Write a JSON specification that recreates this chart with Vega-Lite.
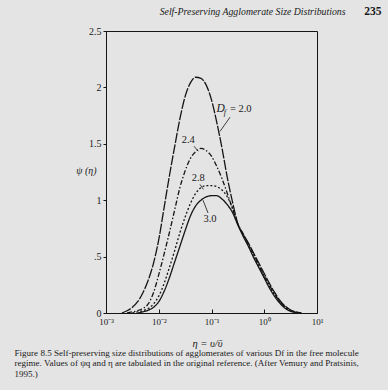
{
  "$schema": "https://vega.github.io/schema/vega-lite/v6.json",
  "autosize": {"type": "none"},
  "width": 211,
  "height": 282,
  "padding": {"left": 106, "top": 31, "right": 71, "bottom": 77},
  "background": "#e4e4e4",
  "datasets": {
    "curves": [
      {"Df": "2.0", "eta": 0.001995, "psi": 0},
      {"Df": "2.0", "eta": 0.002512, "psi": 0.02},
      {"Df": "2.0", "eta": 0.003162, "psi": 0.05},
      {"Df": "2.0", "eta": 0.003981, "psi": 0.10},
      {"Df": "2.0", "eta": 0.005012, "psi": 0.18},
      {"Df": "2.0", "eta": 0.00631, "psi": 0.29},
      {"Df": "2.0", "eta": 0.007943, "psi": 0.44},
      {"Df": "2.0", "eta": 0.01, "psi": 0.65},
      {"Df": "2.0", "eta": 0.01259, "psi": 0.93},
      {"Df": "2.0", "eta": 0.01585, "psi": 1.21},
      {"Df": "2.0", "eta": 0.01995, "psi": 1.47},
      {"Df": "2.0", "eta": 0.02512, "psi": 1.72},
      {"Df": "2.0", "eta": 0.03162, "psi": 1.92},
      {"Df": "2.0", "eta": 0.03981, "psi": 2.04},
      {"Df": "2.0", "eta": 0.05012, "psi": 2.09},
      {"Df": "2.0", "eta": 0.0631, "psi": 2.08},
      {"Df": "2.0", "eta": 0.07943, "psi": 2.02},
      {"Df": "2.0", "eta": 0.1, "psi": 1.89},
      {"Df": "2.0", "eta": 0.1259, "psi": 1.69},
      {"Df": "2.0", "eta": 0.1585, "psi": 1.46},
      {"Df": "2.0", "eta": 0.1995, "psi": 1.20},
      {"Df": "2.0", "eta": 0.2512, "psi": 0.98},
      {"Df": "2.0", "eta": 0.3162, "psi": 0.79},
      {"Df": "2.0", "eta": 0.3981, "psi": 0.70},
      {"Df": "2.0", "eta": 0.5012, "psi": 0.62},
      {"Df": "2.0", "eta": 0.631, "psi": 0.53},
      {"Df": "2.0", "eta": 0.7943, "psi": 0.44},
      {"Df": "2.0", "eta": 1, "psi": 0.35},
      {"Df": "2.0", "eta": 1.259, "psi": 0.26},
      {"Df": "2.0", "eta": 1.585, "psi": 0.18},
      {"Df": "2.0", "eta": 1.995, "psi": 0.11},
      {"Df": "2.0", "eta": 2.512, "psi": 0.06},
      {"Df": "2.0", "eta": 3.162, "psi": 0.027},
      {"Df": "2.0", "eta": 3.981, "psi": 0.009},
      {"Df": "2.0", "eta": 5.012, "psi": 0},
      {"Df": "2.4", "eta": 0.002512, "psi": 0},
      {"Df": "2.4", "eta": 0.003162, "psi": 0.01},
      {"Df": "2.4", "eta": 0.003981, "psi": 0.02},
      {"Df": "2.4", "eta": 0.005012, "psi": 0.04},
      {"Df": "2.4", "eta": 0.00631, "psi": 0.08},
      {"Df": "2.4", "eta": 0.007943, "psi": 0.18},
      {"Df": "2.4", "eta": 0.01, "psi": 0.34},
      {"Df": "2.4", "eta": 0.01259, "psi": 0.52},
      {"Df": "2.4", "eta": 0.01585, "psi": 0.71},
      {"Df": "2.4", "eta": 0.01995, "psi": 0.91},
      {"Df": "2.4", "eta": 0.02512, "psi": 1.11},
      {"Df": "2.4", "eta": 0.03162, "psi": 1.26},
      {"Df": "2.4", "eta": 0.03981, "psi": 1.37},
      {"Df": "2.4", "eta": 0.05012, "psi": 1.43},
      {"Df": "2.4", "eta": 0.0631, "psi": 1.46},
      {"Df": "2.4", "eta": 0.07943, "psi": 1.44},
      {"Df": "2.4", "eta": 0.1, "psi": 1.39},
      {"Df": "2.4", "eta": 0.1259, "psi": 1.30},
      {"Df": "2.4", "eta": 0.1585, "psi": 1.19},
      {"Df": "2.4", "eta": 0.1995, "psi": 1.06},
      {"Df": "2.4", "eta": 0.2512, "psi": 0.92},
      {"Df": "2.4", "eta": 0.3162, "psi": 0.79},
      {"Df": "2.4", "eta": 0.3981, "psi": 0.70},
      {"Df": "2.4", "eta": 0.5012, "psi": 0.61},
      {"Df": "2.4", "eta": 0.631, "psi": 0.52},
      {"Df": "2.4", "eta": 0.7943, "psi": 0.42},
      {"Df": "2.4", "eta": 1, "psi": 0.33},
      {"Df": "2.4", "eta": 1.259, "psi": 0.245},
      {"Df": "2.4", "eta": 1.585, "psi": 0.165},
      {"Df": "2.4", "eta": 1.995, "psi": 0.10},
      {"Df": "2.4", "eta": 2.512, "psi": 0.055},
      {"Df": "2.4", "eta": 3.162, "psi": 0.023},
      {"Df": "2.4", "eta": 3.981, "psi": 0.007},
      {"Df": "2.4", "eta": 5.012, "psi": 0},
      {"Df": "2.8", "eta": 0.003162, "psi": 0},
      {"Df": "2.8", "eta": 0.003981, "psi": 0.01},
      {"Df": "2.8", "eta": 0.005012, "psi": 0.02},
      {"Df": "2.8", "eta": 0.00631, "psi": 0.04},
      {"Df": "2.8", "eta": 0.007943, "psi": 0.08},
      {"Df": "2.8", "eta": 0.01, "psi": 0.15},
      {"Df": "2.8", "eta": 0.01259, "psi": 0.26},
      {"Df": "2.8", "eta": 0.01585, "psi": 0.40},
      {"Df": "2.8", "eta": 0.01995, "psi": 0.55},
      {"Df": "2.8", "eta": 0.02512, "psi": 0.71},
      {"Df": "2.8", "eta": 0.03162, "psi": 0.85},
      {"Df": "2.8", "eta": 0.03981, "psi": 0.97},
      {"Df": "2.8", "eta": 0.05012, "psi": 1.06},
      {"Df": "2.8", "eta": 0.0631, "psi": 1.11},
      {"Df": "2.8", "eta": 0.07943, "psi": 1.13},
      {"Df": "2.8", "eta": 0.1, "psi": 1.13},
      {"Df": "2.8", "eta": 0.1259, "psi": 1.12},
      {"Df": "2.8", "eta": 0.1585, "psi": 1.09},
      {"Df": "2.8", "eta": 0.1995, "psi": 1.03},
      {"Df": "2.8", "eta": 0.2512, "psi": 0.93},
      {"Df": "2.8", "eta": 0.3162, "psi": 0.79},
      {"Df": "2.8", "eta": 0.3981, "psi": 0.69},
      {"Df": "2.8", "eta": 0.5012, "psi": 0.60},
      {"Df": "2.8", "eta": 0.631, "psi": 0.51},
      {"Df": "2.8", "eta": 0.7943, "psi": 0.41},
      {"Df": "2.8", "eta": 1, "psi": 0.32},
      {"Df": "2.8", "eta": 1.259, "psi": 0.235},
      {"Df": "2.8", "eta": 1.585, "psi": 0.16},
      {"Df": "2.8", "eta": 1.995, "psi": 0.095},
      {"Df": "2.8", "eta": 2.512, "psi": 0.05},
      {"Df": "2.8", "eta": 3.162, "psi": 0.02},
      {"Df": "2.8", "eta": 3.981, "psi": 0.006},
      {"Df": "2.8", "eta": 5.012, "psi": 0},
      {"Df": "3.0", "eta": 0.003981, "psi": 0},
      {"Df": "3.0", "eta": 0.005012, "psi": 0.01},
      {"Df": "3.0", "eta": 0.00631, "psi": 0.025},
      {"Df": "3.0", "eta": 0.007943, "psi": 0.05},
      {"Df": "3.0", "eta": 0.01, "psi": 0.10},
      {"Df": "3.0", "eta": 0.01259, "psi": 0.19},
      {"Df": "3.0", "eta": 0.01585, "psi": 0.31},
      {"Df": "3.0", "eta": 0.01995, "psi": 0.45},
      {"Df": "3.0", "eta": 0.02512, "psi": 0.59},
      {"Df": "3.0", "eta": 0.03162, "psi": 0.73},
      {"Df": "3.0", "eta": 0.03981, "psi": 0.86},
      {"Df": "3.0", "eta": 0.05012, "psi": 0.95},
      {"Df": "3.0", "eta": 0.0631, "psi": 1.00},
      {"Df": "3.0", "eta": 0.07943, "psi": 1.03},
      {"Df": "3.0", "eta": 0.1, "psi": 1.04},
      {"Df": "3.0", "eta": 0.1259, "psi": 1.04},
      {"Df": "3.0", "eta": 0.1585, "psi": 1.01},
      {"Df": "3.0", "eta": 0.1995, "psi": 0.96},
      {"Df": "3.0", "eta": 0.2512, "psi": 0.89},
      {"Df": "3.0", "eta": 0.3162, "psi": 0.78},
      {"Df": "3.0", "eta": 0.3981, "psi": 0.68},
      {"Df": "3.0", "eta": 0.5012, "psi": 0.59},
      {"Df": "3.0", "eta": 0.631, "psi": 0.49},
      {"Df": "3.0", "eta": 0.7943, "psi": 0.40},
      {"Df": "3.0", "eta": 1, "psi": 0.31},
      {"Df": "3.0", "eta": 1.259, "psi": 0.22},
      {"Df": "3.0", "eta": 1.585, "psi": 0.145},
      {"Df": "3.0", "eta": 1.995, "psi": 0.085},
      {"Df": "3.0", "eta": 2.512, "psi": 0.04},
      {"Df": "3.0", "eta": 3.162, "psi": 0.015},
      {"Df": "3.0", "eta": 3.981, "psi": 0.004},
      {"Df": "3.0", "eta": 5.012, "psi": 0}
    ],
    "labels": [
      {"t": "2.4", "eta": 0.0363, "psi": 1.537},
      {"t": "2.8", "eta": 0.0562, "psi": 1.198},
      {"t": "3.0", "eta": 0.0938, "psi": 0.832},
      {"t": "= 2.0", "eta": 0.359, "psi": 1.806}
    ],
    "dlabel": [{"t": "D", "eta": 0.1496, "psi": 1.806}],
    "flabel": [{"t": "f", "eta": 0.179, "psi": 1.77}],
    "leaders": [
      {"eta": 0.2244, "psi": 1.736, "eta2": 0.145, "psi2": 1.61},
      {"eta": 0.0466, "psi": 1.478, "eta2": 0.0562, "psi2": 1.434},
      {"eta": 0.0605, "psi": 1.14, "eta2": 0.07, "psi2": 1.096},
      {"eta": 0.069, "psi": 1.0, "eta2": 0.0859, "psi2": 0.887}
    ]
  },
  "layer": [
    {
      "data": {"name": "curves"},
      "mark": {"type": "line", "interpolate": "monotone", "strokeWidth": 1.3, "color": "#151515"},
      "encoding": {
        "x": {
          "field": "eta", "type": "quantitative",
          "scale": {"type": "log", "domain": [0.001, 10]},
          "axis": {
            "orient": "bottom",
            "values": [0.001, 0.01, 0.1, 1, 10],
            "labelExpr": "datum.value < 0.005 ? '10⁻³' : datum.value < 0.05 ? '10⁻²' : datum.value < 0.5 ? '10⁻¹' : datum.value < 5 ? '10⁰' : '10¹'",
            "tickSize": -4,
            "labelPadding": 8.5,
            "labelFontSize": 9,
            "labelFlush": false,
            "labelOverlap": false,
            "title": "η = υ/ῡ",
            "titleX": 101,
            "titleY": 30,
            "titleAlign": "center",
            "titleBaseline": "middle",
            "titleFontStyle": "italic",
            "titleFontSize": 10.5
          }
        },
        "y": {
          "field": "psi", "type": "quantitative",
          "scale": {"domain": [0, 2.5], "nice": false},
          "axis": {
            "orient": "left",
            "values": [0, 0.5, 1, 1.5, 2, 2.5],
            "labelExpr": "replace(format(datum.value, '~g'), '0.', '.')",
            "tickSize": 3,
            "labelPadding": 2,
            "labelFontSize": 10,
            "title": "ψ (η)",
            "titleAngle": 0,
            "titleX": -20,
            "titleY": 139,
            "titleAlign": "center",
            "titleBaseline": "middle",
            "titleFontStyle": "italic",
            "titleFontSize": 10
          }
        },
        "strokeDash": {
          "field": "Df", "type": "nominal",
          "scale": {"domain": ["2.0", "2.4", "2.8", "3.0"], "range": [[10, 1.5], [5, 2, 1.5, 2], [2, 2], [1, 0]]},
          "legend": null
        }
      }
    },
    {
      "data": {"name": "labels"},
      "mark": {"type": "text", "fontSize": 10.5, "align": "center", "baseline": "middle"},
      "encoding": {
        "x": {
          "field": "eta", "type": "quantitative",
          "axis": {
            "orient": "top", "labels": false, "ticks": false, "domain": false,
            "title": "Self-Preserving Agglomerate Size Distributions",
            "titleX": 239, "titleY": -19.5, "titleAlign": "right", "titleBaseline": "middle",
            "titleFontStyle": "italic", "titleFontSize": 9.8, "titleLimit": 1000
          }
        },
        "y": {
          "field": "psi", "type": "quantitative",
          "axis": {
            "orient": "right", "labels": false, "ticks": false, "domain": false,
            "title": "235", "titleAngle": 0,
            "titleX": 64, "titleY": -19.5, "titleAlign": "right", "titleBaseline": "middle",
            "titleFontWeight": "bold", "titleFontSize": 11.5
          }
        },
        "text": {"field": "t"}
      }
    },
    {
      "data": {"name": "leaders"},
      "mark": {"type": "rule", "strokeWidth": 0.8, "color": "#151515"},
      "encoding": {
        "x": {
          "field": "eta", "type": "quantitative",
          "axis": {
            "orient": "bottom", "labels": false, "ticks": false, "domain": false,
            "title": [
              "Figure 8.5 Self-preserving size distributions of agglomerates of various Df in the free molecule",
              "regime. Values of ψq and η are tabulated in the original reference. (After Vemury and Pratsinis,",
              "1995.)"
            ],
            "titleX": -92, "titleY": 35, "titleAlign": "left", "titleBaseline": "top",
            "titleFontSize": 9.05, "titleLineHeight": 10.5, "titleLimit": 1000
          }
        },
        "y": {"field": "psi", "type": "quantitative", "axis": null},
        "x2": {"field": "eta2"},
        "y2": {"field": "psi2"}
      }
    },
    {
      "data": {"name": "dlabel"},
      "mark": {"type": "text", "fontSize": 11.5, "fontStyle": "italic", "align": "center", "baseline": "middle"},
      "encoding": {
        "x": {"field": "eta", "type": "quantitative", "axis": null},
        "y": {"field": "psi", "type": "quantitative", "axis": null},
        "text": {"field": "t"}
      }
    },
    {
      "data": {"name": "flabel"},
      "mark": {"type": "text", "fontSize": 8, "fontStyle": "italic", "align": "center", "baseline": "middle"},
      "encoding": {
        "x": {"field": "eta", "type": "quantitative", "axis": null},
        "y": {"field": "psi", "type": "quantitative", "axis": null},
        "text": {"field": "t"}
      }
    }
  ],
  "resolve": {"axis": {"x": "independent", "y": "independent"}},
  "config": {
    "view": {"stroke": "#151515", "strokeWidth": 1},
    "axis": {
      "grid": false,
      "domainColor": "#151515",
      "tickColor": "#151515",
      "labelColor": "#1a1a1a",
      "titleColor": "#1a1a1a",
      "labelFont": "Liberation Serif",
      "titleFont": "Liberation Serif",
      "titleFontWeight": "normal"
    },
    "text": {"font": "Liberation Serif", "color": "#1a1a1a"}
  }
}
